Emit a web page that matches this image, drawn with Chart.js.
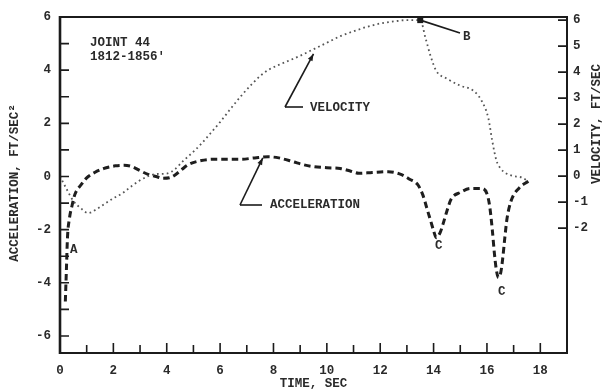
<!DOCTYPE html>
<html>
<head>
<meta charset="utf-8">
<script src="https://cdn.jsdelivr.net/npm/chart.js@4"></script>
<style>
  html, body { margin: 0; padding: 0; background: #fff; }
  #wrap { width: 603px; height: 392px; }
</style>
</head>
<body>
<div id="wrap"><canvas id="c" width="603" height="392"></canvas></div>
<script>
// Joint 44, 1812-1856' : time histories of velocity and acceleration
const velTime = [0.0, 0.25, 0.5, 0.8, 1.05, 1.4, 1.7, 2.0, 2.35, 2.7, 2.95, 3.3, 3.6, 4.0, 4.3, 4.6, 5.0, 5.3, 5.65, 6.0, 6.4, 6.8, 7.2, 7.5, 7.8, 8.2, 8.6, 9.0, 9.5, 10.0, 10.5, 11.0, 11.5, 12.0, 12.5, 13.0, 13.5, 13.7, 13.9, 14.1, 14.5, 15.0, 15.5, 15.8, 16.05, 16.2, 16.35, 16.5, 16.7, 17.0, 17.3, 17.55];
const velocity = [0.0, -0.5, -0.95, -1.25, -1.42, -1.25, -1.05, -0.85, -0.65, -0.37, -0.19, 0.0, 0.08, 0.1, 0.26, 0.57, 0.94, 1.25, 1.66, 2.08, 2.6, 3.1, 3.55, 3.85, 4.08, 4.28, 4.45, 4.63, 4.88, 5.13, 5.38, 5.57, 5.74, 5.87, 5.95, 6.0, 6.0, 5.3, 4.58, 4.05, 3.75, 3.48, 3.28, 2.9, 2.24, 1.35, 0.62, 0.31, 0.12, 0.0, -0.05, -0.19];

const accTime = [0.2, 0.24, 0.28, 0.35, 0.45, 0.56, 0.8, 1.0, 1.3, 1.7, 2.07, 2.4, 2.7, 3.0, 3.3, 3.6, 3.85, 4.1, 4.3, 4.55, 4.8, 5.3, 5.8, 6.3, 6.8, 7.3, 7.8, 8.2, 8.75, 9.1, 9.5, 10.0, 10.5, 10.9, 11.2, 11.7, 12.3, 12.8, 13.1, 13.4, 13.6, 13.75, 13.9, 14.0, 14.1, 14.25, 14.35, 14.5, 14.66, 15.0, 15.4, 15.8, 16.0, 16.1, 16.2, 16.28, 16.35, 16.43, 16.52, 16.6, 16.67, 16.75, 16.9, 17.2, 17.55];
const acceleration = [-4.7, -3.5, -2.3, -1.6, -1.1, -0.67, -0.3, -0.05, 0.15, 0.32, 0.4, 0.42, 0.37, 0.22, 0.08, 0.0, -0.07, -0.05, 0.05, 0.25, 0.44, 0.6, 0.65, 0.65, 0.65, 0.7, 0.74, 0.7, 0.55, 0.45, 0.37, 0.33, 0.3, 0.2, 0.12, 0.15, 0.18, 0.07, -0.1, -0.3, -0.7, -1.2, -1.7, -2.04, -2.3, -2.1, -1.8, -1.3, -0.85, -0.6, -0.45, -0.45, -0.65, -1.1, -2.0, -2.9, -3.5, -3.8, -3.6, -3.0, -2.3, -1.6, -0.93, -0.44, -0.18];

// axis ranges and labelled ticks
const timeRange = [0, 19];
const accRange = [-6.64, 6];
const velRange = [-6.8, 6.12];
const velLabelRange = [-2, 6];

const FONT_FAMILY = '"Liberation Mono", "DejaVu Sans Mono", monospace';
const FONT_WEIGHT = 'bold';
const INK = '#1b1b1b';
const TEXT_INK = '#2a2a2a';

function pts(xs, ys) { return xs.map((x, i) => ({ x: x, y: ys[i] })); }

function arrowTo(ctx, x0, y0, x1, y1) {
  ctx.beginPath();
  ctx.moveTo(x0, y0);
  ctx.lineTo(x1, y1);
  ctx.stroke();
  const ang = Math.atan2(y1 - y0, x1 - x0);
  const L = 7, W = 2.6;
  ctx.beginPath();
  ctx.moveTo(x1, y1);
  ctx.lineTo(x1 - L * Math.cos(ang) + W * Math.sin(ang), y1 - L * Math.sin(ang) - W * Math.cos(ang));
  ctx.lineTo(x1 - L * Math.cos(ang) - W * Math.sin(ang), y1 - L * Math.sin(ang) + W * Math.cos(ang));
  ctx.closePath();
  ctx.fill();
}

// frame, inward tick marks, axis titles and callouts
const framePlugin = {
  id: 'framePlugin',
  afterDatasetsDraw(chart) {
    const { ctx, chartArea: a, scales } = chart;
    const xs = scales.x, yl = scales.y, yr = scales.y2;
    ctx.save();
    ctx.strokeStyle = INK;
    ctx.fillStyle = INK;
    ctx.lineCap = 'butt';

    // box
    ctx.lineWidth = 2;
    ctx.strokeRect(a.left, a.top, a.right - a.left, a.bottom - a.top);
    ctx.lineWidth = 2.6;
    ctx.beginPath(); ctx.moveTo(a.left, a.top - 1); ctx.lineTo(a.left, a.bottom + 1); ctx.stroke();

    // tick marks pointing into the plot
    ctx.lineWidth = 1.6;
    ctx.beginPath();
    xs.ticks.forEach(t => {
      if (t.value <= timeRange[0] || t.value >= timeRange[1]) return;
      const px = xs.getPixelForValue(t.value);
      const len = t.value % 2 === 0 ? 10 : 8;
      ctx.moveTo(px, a.bottom); ctx.lineTo(px, a.bottom - len);
    });
    yl.ticks.forEach(t => {
      if (t.value >= accRange[1]) return;
      const py = yl.getPixelForValue(t.value);
      ctx.moveTo(a.left, py); ctx.lineTo(a.left + 9, py);
    });
    yr.ticks.forEach(t => {
      if (t.value < velLabelRange[0] || t.value > velLabelRange[1]) return;
      const py = yr.getPixelForValue(t.value);
      ctx.moveTo(a.right, py); ctx.lineTo(a.right - 9, py);
    });
    ctx.stroke();

    // axis titles
    ctx.fillStyle = TEXT_INK;
    ctx.font = FONT_WEIGHT + ' 12.5px ' + FONT_FAMILY;
    ctx.textBaseline = 'middle';
    ctx.textAlign = 'center';
    ctx.fillText('TIME, SEC', (a.left + a.right) / 2, 384);

    ctx.save();
    ctx.translate(15, 183);
    ctx.rotate(-Math.PI / 2);
    ctx.fillText('ACCELERATION, FT/SEC\u00B2', 0, 0);
    ctx.restore();

    ctx.save();
    ctx.translate(597, 124);
    ctx.rotate(-Math.PI / 2);
    ctx.fillText('VELOCITY, FT/SEC', 0, 0);
    ctx.restore();

    // heading
    ctx.textAlign = 'left';
    ctx.fillText('JOINT 44', 90, 43);
    ctx.fillText("1812-1856'", 90, 57);

    // velocity callout
    ctx.fillStyle = INK;
    ctx.lineWidth = 1.6;
    const vTip = [xs.getPixelForValue(9.5), yr.getPixelForValue(4.7)];
    ctx.beginPath(); ctx.moveTo(303, 107); ctx.lineTo(285, 107); ctx.stroke();
    arrowTo(ctx, 285, 107, vTip[0], vTip[1]);
    ctx.fillStyle = TEXT_INK;
    ctx.fillText('VELOCITY', 310, 108);

    // acceleration callout
    ctx.fillStyle = INK;
    const aTip = [xs.getPixelForValue(7.6), yl.getPixelForValue(0.7)];
    ctx.beginPath(); ctx.moveTo(262, 205); ctx.lineTo(240, 205); ctx.stroke();
    arrowTo(ctx, 240, 205, aTip[0], aTip[1]);
    ctx.fillStyle = TEXT_INK;
    ctx.fillText('ACCELERATION', 270, 205);

    // peak velocity marker B
    ctx.fillStyle = INK;
    const bx = xs.getPixelForValue(13.5), by = yr.getPixelForValue(6.0);
    ctx.fillRect(bx - 3, by - 3, 6, 6);
    ctx.beginPath(); ctx.moveTo(bx, by); ctx.lineTo(460, 33); ctx.stroke();
    ctx.fillStyle = TEXT_INK;
    ctx.fillText('B', 463, 37);

    // point letters
    ctx.fillText('A', 70, 250);
    ctx.fillText('C', 435, 246);
    ctx.fillText('C', 498, 292);

    ctx.restore();
  }
};

const tickFont = { family: FONT_FAMILY, size: 12.5, weight: FONT_WEIGHT };

new Chart(document.getElementById('c'), {
  type: 'line',
  data: {
    datasets: [
      {
        label: 'VELOCITY',
        data: pts(velTime, velocity),
        yAxisID: 'y2',
        borderColor: '#555555',
        borderWidth: 1.8,
        borderDash: [1.7, 3.2],
        pointRadius: 0,
        fill: false,
        cubicInterpolationMode: 'monotone'
      },
      {
        label: 'ACCELERATION',
        data: pts(accTime, acceleration),
        yAxisID: 'y',
        borderColor: '#1e1e1e',
        borderWidth: 3,
        borderDash: [6.5, 4],
        pointRadius: 0,
        fill: false,
        cubicInterpolationMode: 'monotone'
      }
    ]
  },
  options: {
    responsive: false,
    animation: false,
    devicePixelRatio: 1,
    layout: { padding: { top: 17, left: 0, right: 0, bottom: 0 } },
    plugins: { legend: { display: false }, tooltip: { enabled: false } },
    scales: {
      x: {
        type: 'linear',
        min: timeRange[0], max: timeRange[1],
        grid: { display: false, drawTicks: false },
        border: { display: false },
        ticks: {
          stepSize: 1, autoSkip: false, maxRotation: 0, padding: 10,
          color: TEXT_INK, font: tickFont,
          callback: v => (v % 2 === 0 && v < timeRange[1]) ? String(v) : ''
        },
        afterFit: s => { s.height = 39; }
      },
      y: {
        position: 'left',
        min: accRange[0], max: accRange[1],
        grid: { display: false, drawTicks: false },
        border: { display: false },
        ticks: {
          stepSize: 1, includeBounds: false, autoSkip: false, padding: 9,
          color: TEXT_INK, font: tickFont,
          callback: v => (Math.round(v) % 2 === 0) ? String(v) : ''
        },
        afterFit: s => { s.width = 60; }
      },
      y2: {
        position: 'right',
        min: velRange[0], max: velRange[1],
        grid: { display: false, drawTicks: false },
        border: { display: false },
        ticks: {
          stepSize: 1, includeBounds: false, autoSkip: false, padding: 6,
          color: TEXT_INK, font: tickFont,
          callback: v => (v >= velLabelRange[0] && v <= velLabelRange[1]) ? String(v) : ''
        },
        afterFit: s => { s.width = 36; }
      }
    }
  },
  plugins: [framePlugin]
});
</script>
</body>
</html>
